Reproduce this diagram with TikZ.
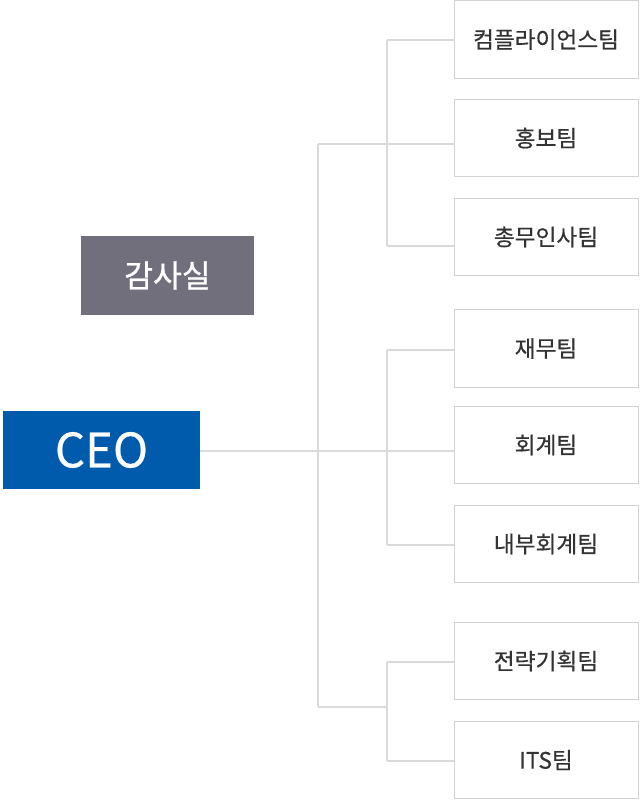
\documentclass[tikz,border=0pt]{standalone}
\usepackage{fontspec}
\setmainfont{Noto Sans CJK KR}
\newfontfamily\medfont[FakeBold=0.5]{Noto Sans CJK KR}
\newfontfamily\semifont[FakeBold=1.0]{Noto Sans CJK KR}
\definecolor{linegray}{HTML}{DADADA}
\definecolor{boxgray}{HTML}{D2D2D2}
\definecolor{txt}{HTML}{333333}
\definecolor{ceoblue}{HTML}{005BAC}
\definecolor{audgray}{HTML}{706F7B}
\begin{document}
\begin{tikzpicture}[x=0.75pt,y=-0.75pt,
  teambox/.style={draw=boxgray,line width=0.75pt,fill=white,minimum width=138pt,minimum height=58pt,inner sep=0pt,text=txt,font=\medfont\fontsize{17pt}{20pt}\selectfont},
  conn/.style={draw=linegray,line width=1.5pt},
  ceobox/.style={fill=ceoblue,text=white,minimum width=147.75pt,minimum height=58.5pt,inner sep=0pt,font=\medfont\fontsize{35.5pt}{40pt}\selectfont},
  audbox/.style={fill=audgray,text=white,minimum width=129.75pt,minimum height=59.25pt,inner sep=0pt,font=\semifont\fontsize{23.5pt}{26pt}\selectfont}]
\useasboundingbox (0,0) rectangle (640,800);
% junction coordinates
\coordinate (m1) at (318,144);
\coordinate (m2) at (318,451);
\coordinate (m3) at (318,707);
\coordinate (a1) at (387,40);
\coordinate (a2) at (387,144);
\coordinate (a3) at (387,246);
\coordinate (c1) at (387,350);
\coordinate (c2) at (387,451);
\coordinate (c3) at (387,545);
\coordinate (d1) at (387,662);
\coordinate (d2) at (387,707);
\coordinate (d3) at (387,761);
% nodes
\node[ceobox] (ceo) at (101.5,450) {CEO};
\node[audbox] (aud) at (167.5,275.5) {감사실};
% connectors (drawn before team boxes)
\draw[conn] (m1) -- (m3);
\draw[conn] (a1) -- (a3);
\draw[conn] (c1) -- (c3);
\draw[conn] (d1) -- (d3);
\draw[conn] (m3) -- (d2);
\node[teambox] (b1) at (546,39.5) {컴플라이언스팀};
\node[teambox] (b2) at (546,138) {홍보팀};
\node[teambox] (b3) at (546,237) {총무인사팀};
\node[teambox] (b4) at (546,348.5) {재무팀};
\node[teambox] (b5) at (546,445) {회계팀};
\node[teambox] (b6) at (546,544) {내부회계팀};
\node[teambox] (b7) at (546,661) {전략기획팀};
\node[teambox] (b8) at (546,760) {ITS팀};
\draw[conn] (ceo.east |- m2) -- (m2 -| b5.west);
\draw[conn] (m1) -- (m1 -| b2.west);
\draw[conn] (a1) -- (a1 -| b1.west);
\draw[conn] (a3) -- (a3 -| b3.west);
\draw[conn] (c1) -- (c1 -| b4.west);
\draw[conn] (c3) -- (c3 -| b6.west);
\draw[conn] (d1) -- (d1 -| b7.west);
\draw[conn] (d3) -- (d3 -| b8.west);
\end{tikzpicture}
\end{document}
